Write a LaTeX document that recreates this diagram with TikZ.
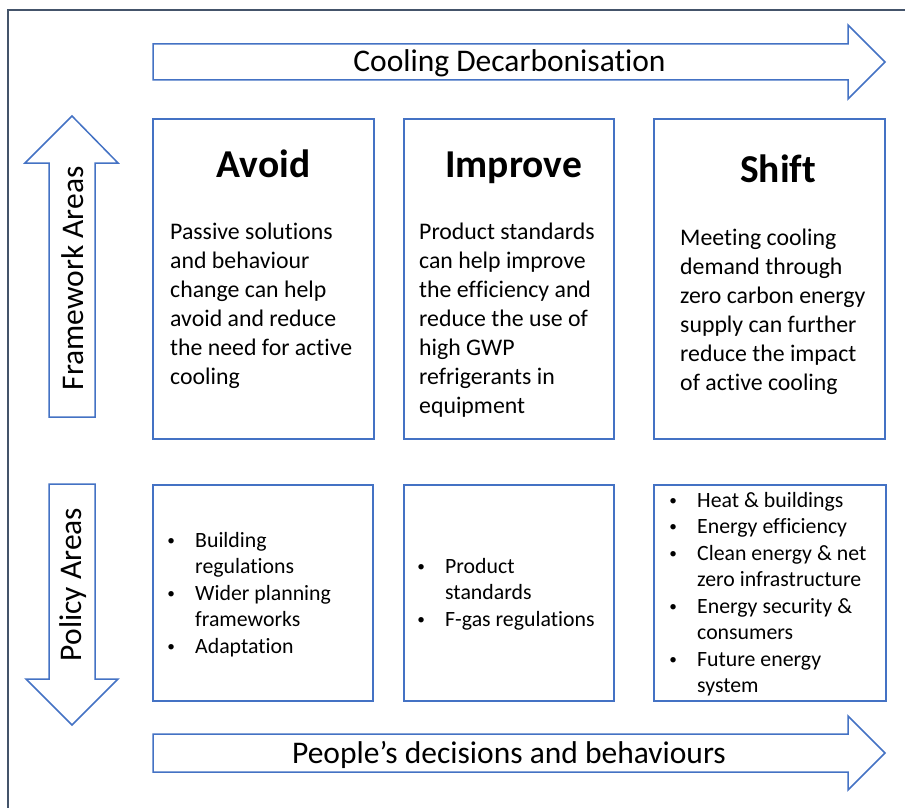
\documentclass[tikz,border=0pt]{standalone}
\usepackage{fontspec}
\setmainfont{Carlito}[Ligatures={NoCommon,NoContextual,NoRare},Contextuals=NoAlternate,RawFeature={-liga;-clig;-calt}]
\definecolor{oblue}{RGB}{68,114,196}
\definecolor{framecol}{RGB}{68,84,106}
\newcommand{\bodyfont}{\fontsize{23.8pt}{29pt}\selectfont}
\newcommand{\listfont}{\fontsize{21.8pt}{26.5pt}\selectfont}
\newcommand{\headfont}{\fontsize{39.5pt}{47pt}\selectfont\bfseries}
\newcommand{\arrfont}{\fontsize{31.5pt}{38pt}\selectfont}
\newcommand{\smalldot}{\raisebox{1.8pt}{\scalebox{0.7}{\textbullet}}}
\newcommand{\bl}[1]{\hbox{\hbox to 11pt{\hss\smalldot\hss}\hskip18.5pt #1}}
\newcommand{\cl}[1]{\hbox{\hskip29.5pt #1}}
\newcommand{\lineh}[1]{\hbox{#1}}
\tikzset{
  box/.style={draw=oblue, line width=1.5pt, rectangle, inner sep=0pt},
  arrowshape/.style={draw=oblue, line width=1.5pt, line join=miter},
  txt/.style={inner sep=0pt, text=black},
}
\begin{document}
\begin{tikzpicture}[x=1pt,y=-1pt]
\useasboundingbox (0,0) rectangle (905,808);
\fill[white] (0,0) rectangle (905,808);
% outer frame
\draw[framecol, line width=2pt] (905,10) -- (8,10) -- (8,808);

% top arrow
\draw[arrowshape] (153,44) -- (848,44) -- (848,25) -- (885,62) -- (848,99) -- (848,80) -- (153,80) -- cycle;
\node[txt, anchor=base, font=\arrfont] (cooling) at (509.5,72) {Cooling Decarbonisat\kern0pt ion};

% bottom arrow
\draw[arrowshape] (153,734) -- (848,734) -- (848,716) -- (885,753) -- (848,790) -- (848,772) -- (153,772) -- cycle;
\node[txt, anchor=base, font=\arrfont] (people) at (509,763) {People’s decisions and behaviours};

% up arrow
\draw[arrowshape] (49,417) -- (49,163) -- (25,163) -- (72,116) -- (118,163) -- (95,163) -- (95,417) -- cycle;
\node[txt, anchor=base, rotate=90, font=\arrfont] (framework) at (83,278.5) {Framework Areas};

% down arrow
\draw[arrowshape] (49,484) -- (95,484) -- (95,679) -- (118,679) -- (72,725) -- (26,679) -- (49,679) -- cycle;
\node[txt, anchor=base, rotate=90, font=\arrfont] (policy) at (81,584.5) {Policy Areas};

% framework boxes
\node[box, minimum width=221pt, minimum height=320pt] (avoid) at (263.5,279) {};
\node[box, minimum width=210pt, minimum height=320pt] (improve) at (509,279) {};
\node[box, minimum width=231pt, minimum height=320pt] (shift) at (769.5,279) {};

\node[txt, anchor=base, font=\headfont] (avoidh) at (263.5,177) {Avoid};
\node[txt, anchor=base, font=\headfont] (improveh) at (513.5,177) {Improve};
\node[txt, anchor=base, font=\headfont] (shifth) at (778,182) {Shift};

\node[txt, anchor=base west] (avoidt) at (170,239) {\vtop{\bodyfont
  \lineh{Passive solut\kern0pt ions}\lineh{and behaviour}\lineh{change can help}\lineh{avoid and reduce}\lineh{the need for act\kern0pt ive}\lineh{cooling}}};
\node[txt, anchor=base west] (improvet) at (419,239) {\vtop{\bodyfont
  \lineh{Product standards}\lineh{can help improve}\lineh{the ef\kern0pt f\kern0pt iciency and}\lineh{reduce the use of}\lineh{high GWP}\lineh{refrigerants in}\lineh{equipment}}};
\node[txt, anchor=base west] (shiftt) at (680,245) {\vtop{\bodyfont
  \lineh{Meet\kern0pt ing cooling}\lineh{demand through}\lineh{zero carbon energy}\lineh{supply can further}\lineh{reduce the impact}\lineh{of act\kern0pt ive cooling}}};

% policy boxes
\node[box, minimum width=220pt, minimum height=216pt] (avoidp) at (263,593) {};
\node[box, minimum width=210pt, minimum height=216pt] (improvep) at (509,593) {};
\node[box, minimum width=232pt, minimum height=216pt] (shiftp) at (770,593) {};

\node[txt, anchor=base west] (avoidl) at (165.5,547) {\vtop{\listfont
  \bl{Building}\cl{regulat\kern0pt ions}\bl{Wider planning}\cl{frameworks}\bl{Adaptat\kern0pt ion}}};
\node[txt, anchor=base west] (improvel) at (415.5,573) {\vtop{\listfont
  \bl{Product}\cl{standards}\bl{F-gas regulat\kern0pt ions}}};
\node[txt, anchor=base west] (shiftl) at (667.5,507) {\vtop{\listfont
  \bl{Heat \& buildings}\bl{Energy ef\kern0pt f\kern0pt iciency}\bl{Clean energy \& net}\cl{zero infrastructure}\bl{Energy security \&}\cl{consumers}\bl{Future energy}\cl{system}}};
\end{tikzpicture}
\end{document}
